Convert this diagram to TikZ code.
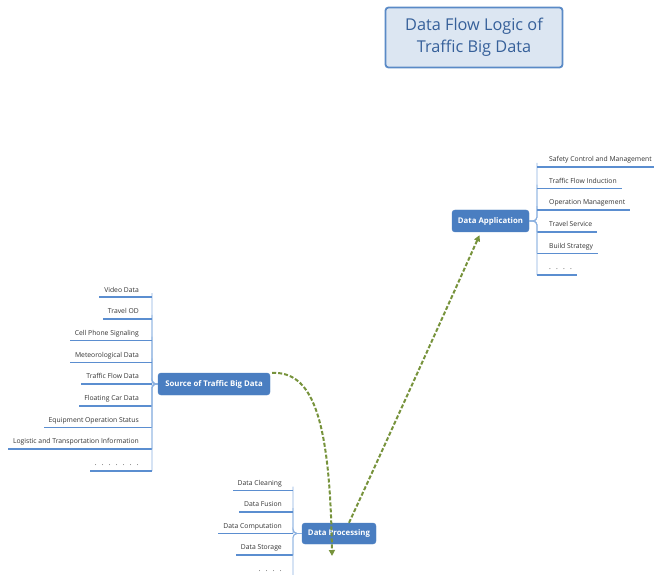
\documentclass[tikz,border=0pt]{standalone}
\usepackage{fontspec}
\setmainfont{Open Sans}
\usetikzlibrary{arrows.meta}
\definecolor{nodeblue}{HTML}{4A7EC1}
\definecolor{titlefill}{HTML}{DCE6F2}
\definecolor{titleline}{HTML}{5A8AC6}
\definecolor{titletext}{HTML}{36609A}
\definecolor{lineblue}{HTML}{8CB1E0}
\definecolor{ulblue}{HTML}{5B8ED0}
\definecolor{flowgreen}{HTML}{77933C}
\definecolor{itemtext}{HTML}{333333}
\newcommand\mydotgap{\hspace{5.2pt}}
\begin{document}
\begin{tikzpicture}[x=1pt,y=-1pt,
  titlebox/.style={draw=titleline, line width=1.8pt, fill=titlefill, rounded corners=3pt,
    minimum width=177pt, minimum height=60pt, align=center, text=titletext,
    font=\fontsize{16.3}{22}\selectfont},
  mainnode/.style={fill=nodeblue, draw=nodeblue, rounded corners=3pt, text=white,
    inner sep=0pt, font=\bfseries\fontsize{7.8}{9}\selectfont},
  item/.style={inner xsep=5pt, inner ysep=3.5pt, text height=5.5pt, text depth=1.5pt,
    text=itemtext, font=\fontsize{6.8}{8}\selectfont},
  branch/.style={draw=lineblue, line width=0.9pt, rounded corners=4pt},
  uline/.style={draw=ulblue, line width=1.6pt},
  flow/.style={draw=flowgreen, line width=2pt, dash pattern=on 4pt off 2pt,
    -{Triangle[length=6pt,width=6pt]}}
]
\useasboundingbox (0,0) rectangle (654,575);

% title
\node[titlebox] (title) at (474,37.5) {Data Flow Logic of\\Traffic Big Data};

% main nodes
\node[mainnode, minimum width=77pt, minimum height=22pt] (app) at (490.5,221) {Data Application};
\node[mainnode, minimum width=112pt, minimum height=22pt] (src) at (214,384) {Source of Traffic Big Data};
\node[mainnode, minimum width=74pt, minimum height=21pt] (proc) at (339,533.5) {Data Processing};

% right items (Data Application)
\foreach \n/\t/\k in {a1/Safety Control and Management/0, a2/Traffic Flow Induction/1,
  a3/Operation Management/2, a4/Travel Service/3, a5/Build Strategy/4,
  a6/{.\mydotgap.\mydotgap.\mydotgap.}/5}{
  \node[item, anchor=south west] (\n) at (544,{167+21.6*\k}) {\t};
  \draw[branch] (app.east) -- (537,221) |- ([xshift=-7pt]\n.south west);
  \draw[uline] ([xshift=-7pt]\n.south west) -- (\n.south east);
}

% left items (Source)
\foreach \n/\t/\k in {s1/Video Data/0, s2/Travel OD/1, s3/Cell Phone Signaling/2,
  s4/Meteorological Data/3, s5/Traffic Flow Data/4, s6/Floating Car Data/5,
  s7/Equipment Operation Status/6, s8/Logistic and Transportation Information/7,
  s9/{.\mydotgap.\mydotgap.\mydotgap.\mydotgap.\mydotgap.\mydotgap.}/8}{
  \node[item, anchor=south east] (\n) at (144,{297.2+21.7*\k}) {\t};
  \draw[branch] (src.west) -- (152,384) |- ([xshift=8pt]\n.south east);
  \draw[uline] ([xshift=8pt]\n.south east) -- (\n.south west);
}

% left items (Processing)
\foreach \n/\t/\k in {p1/Data Cleaning/0, p2/Data Fusion/1, p3/Data Computation/2,
  p4/Data Storage/3, p5/{.\mydotgap.\mydotgap.\mydotgap.}/4}{
  \node[item, anchor=south east] (\n) at (287,{490.5+21.5*\k}) {\t};
  \draw[branch] (proc.west) -- (293,533.5) |- ([xshift=6pt]\n.south east);
  \draw[uline] ([xshift=6pt]\n.south east) -- (\n.south west);
}

% flows
\coordinate (pend) at (332,556);
\draw[flow] ([xshift=2pt]src.north east) .. controls (310,372) and (330,410) .. (pend);
\draw[flow] ([xshift=10pt]proc.north) .. controls (385,445) and (455,290) .. ([xshift=-11pt,yshift=-3pt]app.south);
\end{tikzpicture}
\end{document}
